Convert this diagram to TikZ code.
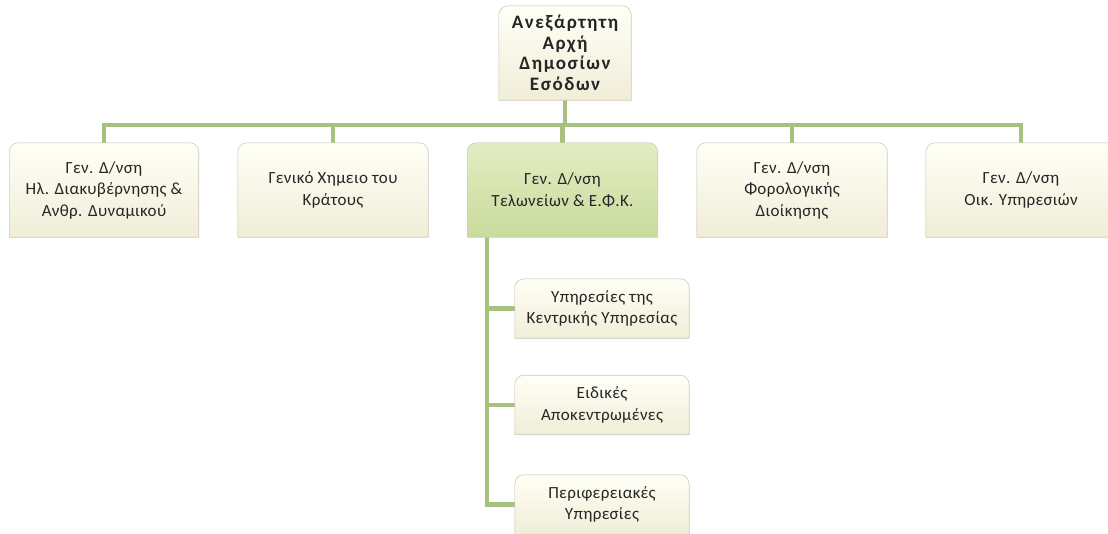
\documentclass[tikz,border=0pt]{standalone}
\usepackage{fontspec}
\setmainfont{Carlito}
\newfontfamily\boxfont[LetterSpace=2]{Carlito}
\newfontfamily\topfont[LetterSpace=8]{Carlito}
\usetikzlibrary{calc}
\pgfdeclarelayer{lines}
\pgfdeclarelayer{boxes}
\pgfsetlayers{lines,boxes,main}
\definecolor{linegreen}{HTML}{A6C27E}
\definecolor{creamtop}{HTML}{FFFFF6}
\definecolor{creambot}{HTML}{F0EDD8}
\definecolor{greentop}{HTML}{E2EDC2}
\definecolor{greenbot}{HTML}{C9DB9C}
\definecolor{boxedge}{HTML}{D0CEBE}
\definecolor{txt}{HTML}{262626}
\tikzset{
  lbl/.style={align=center, text=txt, font=\boxfont\fontsize{17}{21.5}\selectfont, inner sep=0pt},
  conn/.style={draw=linegreen, line width=4.5pt, line join=miter},
  creamfill/.style={top color=creamtop, bottom color=creambot, draw=boxedge, line width=0.6pt},
  greenfill/.style={top color=greentop, bottom color=greenbot, draw=boxedge!70!greenbot, line width=0.6pt},
}
\newcommand\shapeoutline[1]{(#1.south west) -- ([yshift=-9pt]#1.north west) arc[start angle=180,end angle=90,radius=9pt] -- ([xshift=-9pt]#1.north east) arc[start angle=90,end angle=0,radius=9pt] -- (#1.south east) -- cycle}
\newcommand\drawbox[2]{%
  \begin{pgfonlayer}{boxes}
    \foreach \k in {1,...,4}{
      \fill[black, opacity=0.08, shift={(0.6*\k pt,-1.5*\k pt)}] \shapeoutline{#1};
    }
    \path[#2] \shapeoutline{#1};
  \end{pgfonlayer}}
\begin{document}
\begin{tikzpicture}[x=1pt,y=1pt]
\useasboundingbox (0,0) rectangle (1108,-533);
% top
\node[lbl, font=\topfont\bfseries\fontsize{19}{20.5}\selectfont, minimum width=132pt, minimum height=94pt] (top) at (565,-53) {Ανεξάρτητη\\Αρχή\\Δημοσίων\\Εσόδων};
% level 1
\node[lbl, minimum width=189pt, minimum height=94pt] (b1) at (104,-190) {Γεν. Δ/νση\\Ηλ. Διακυβέρνησης \&\\Ανθρ. Δυναμικού};
\node[lbl, minimum width=190pt, minimum height=94pt] (b2) at (333,-190) {Γενικό Χημειο του\\Κράτους};
\node[lbl, minimum width=190pt, minimum height=94pt] (b3) at (562.5,-190) {Γεν. Δ/νση\\Τελωνείων \& Ε.Φ.Κ.};
\node[lbl, minimum width=190pt, minimum height=94pt] (b4) at (792,-190) {Γεν. Δ/νση\\Φορολογικής\\Διοίκησης};
\node[lbl, minimum width=190pt, minimum height=94pt] (b5) at (1021,-190) {Γεν. Δ/νση\\Οικ. Υπηρεσιών};
% sub
\node[lbl, minimum width=174pt, minimum height=59pt] (s1) at (602,-308.5) {Υπηρεσίες της\\Κεντρικής Υπηρεσίας};
\node[lbl, minimum width=174pt, minimum height=59pt] (s2) at (602,-405) {Ειδικές\\Αποκεντρωμένες};
\node[lbl, minimum width=174pt, minimum height=59pt] (s3) at (602,-504.5) {Περιφερειακές\\Υπηρεσίες};
\drawbox{top}{creamfill}
\drawbox{b1}{creamfill}
\drawbox{b2}{creamfill}
\drawbox{b3}{greenfill}
\drawbox{b4}{creamfill}
\drawbox{b5}{creamfill}
\drawbox{s1}{creamfill}
\drawbox{s2}{creamfill}
\drawbox{s3}{creamfill}
\coordinate (bus) at (0,-125);
\coordinate (spine) at (487,0);
\begin{pgfonlayer}{lines}
  \draw[conn] (top.south) -- (top.south |- bus);
  \draw[conn] ([xshift=-2.25pt]b1.north |- bus) -- ([xshift=2.25pt]b5.north |- bus);
  \foreach \b in {b1,b2,b3,b4,b5}{
    \draw[conn] (\b.north) -- (\b.north |- bus);
  }
  \draw[conn] (b3.south -| spine) |- (s3.west);
  \draw[conn] (spine |- s1.west) -- (s1.west);
  \draw[conn] (spine |- s2.west) -- (s2.west);
\end{pgfonlayer}
\end{tikzpicture}
\end{document}
